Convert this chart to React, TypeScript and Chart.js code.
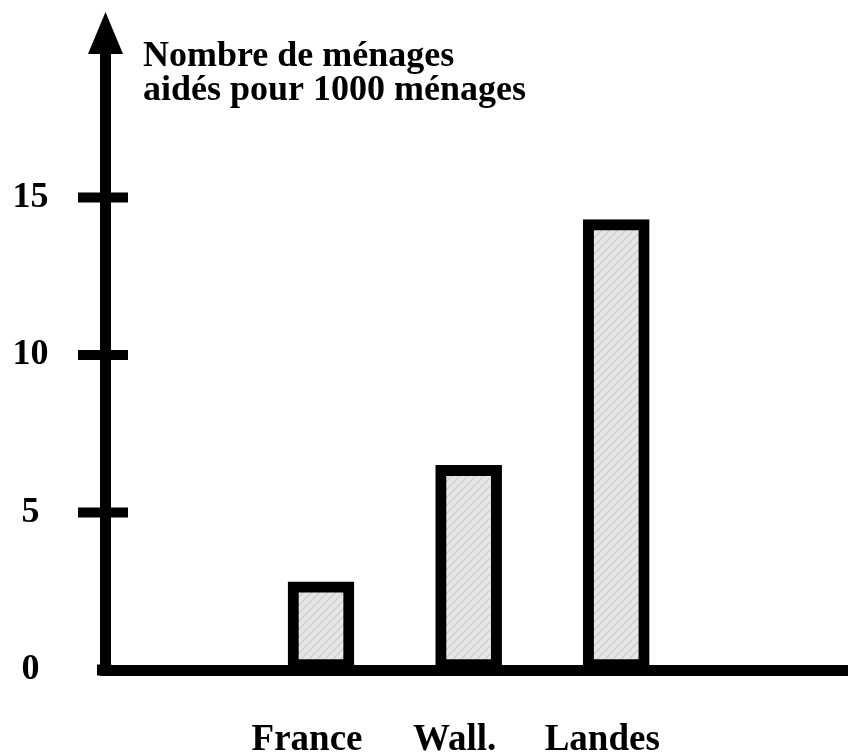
import React, { useEffect, useRef } from "react";
import { Chart, registerables } from "chart.js";

Chart.register(...registerables);

const categories = ["France", "Wall.", "Landes"];
const values = [2.8, 6.5, 14.3];
const yTickValues = [0, 5, 10, 15];
const titleLines = ["Nombre de ménages", "aidés pour 1000 ménages"];

const FONT = "'Liberation Serif', 'Times New Roman', serif";

function makePattern(): CanvasPattern | string {
  const c = document.createElement("canvas");
  c.width = 24;
  c.height = 24;
  const g = c.getContext("2d");
  if (!g) return "#e4e4e4";
  g.fillStyle = "#e6e6e6";
  g.fillRect(0, 0, 24, 24);
  g.strokeStyle = "rgba(185,185,185,0.5)";
  g.lineWidth = 1.3;
  for (let k = -24; k <= 48; k += 8) {
    g.beginPath();
    g.moveTo(k, 24);
    g.lineTo(k + 24, 0);
    g.stroke();
  }
  return g.createPattern(c, "repeat") || "#e4e4e4";
}

const decorPlugin = {
  id: "decor",
  afterDraw(chart: any) {
    const { ctx, chartArea, scales } = chart;
    const y = scales.y;
    const axisX = chartArea.left;
    const base = chartArea.bottom;
    ctx.save();
    ctx.fillStyle = "#000";
    // corner fill so the two axis lines meet
    ctx.fillRect(97, base - 5.5, axisX - 97 + 6, 11);
    ctx.fillRect(axisX - 5.5, base - 6, 11, 11);
    // arrow head
    ctx.beginPath();
    ctx.moveTo(axisX, chartArea.top - 28);
    ctx.lineTo(axisX - 17.5, chartArea.top + 14);
    ctx.lineTo(axisX + 17.5, chartArea.top + 14);
    ctx.closePath();
    ctx.fill();
    // tick stubs across the axis
    for (const v of yTickValues) {
      if (v === 0) continue;
      const py = y.getPixelForValue(v);
      ctx.fillRect(axisX - 27.5, py - 5, 50, 10);
    }
    // title
    ctx.font = `bold 36px ${FONT}`;
    ctx.textBaseline = "alphabetic";
    ctx.textAlign = "left";
    ctx.fillText(titleLines[0], 143, 66);
    ctx.fillText(titleLines[1], 143, 100);
    ctx.restore();
  },
};

export default function App() {
  const canvasRef = useRef<HTMLCanvasElement | null>(null);

  useEffect(() => {
    const canvas = canvasRef.current;
    if (!canvas) return;
    const pattern = makePattern();
    const chart = new Chart(canvas, {
      type: "bar",
      data: {
        datasets: [
          {
            data: categories.map((_, i) => ({ x: i, y: values[i] })),
            backgroundColor: pattern as any,
            borderColor: "#000",
            borderWidth: 11,
            borderSkipped: false,
            barThickness: 66,
          },
        ],
      },
      options: {
        responsive: false,
        animation: false,
        devicePixelRatio: 1,
        layout: { padding: { top: 40, left: 0, right: 0, bottom: 0 } },
        plugins: {
          legend: { display: false },
          tooltip: { enabled: false },
          title: { display: false },
        },
        scales: {
          x: {
            type: "linear",
            offset: false,
            min: -1.46,
            max: 3.57,
            grid: { display: false, drawTicks: false, offset: false },
            border: { display: true, color: "#000", width: 11 },
            afterBuildTicks: (s: any) => {
              s.ticks = categories.map((_, i) => ({ value: i }));
            },
            afterFit: (s: any) => {
              s.height = 86;
              s.paddingLeft = 0;
              s.paddingRight = 0;
            },
            ticks: {
              callback: (v: any) => categories[v as number] ?? "",
              font: { family: FONT, size: 37, weight: "bold" },
              color: "#000",
              padding: 48,
              labelOffset: -14,
              maxRotation: 0,
              autoSkip: false,
            },
          },
          y: {
            type: "linear",
            min: 0,
            max: 20,
            grid: { display: false, drawTicks: false },
            border: { display: true, color: "#000", width: 11 },
            afterBuildTicks: (s: any) => {
              s.ticks = yTickValues.map((v) => ({ value: v }));
            },
            afterFit: (s: any) => {
              s.width = 105.5;
              s.paddingTop = 0;
              s.paddingBottom = 0;
            },
            ticks: {
              callback: (v: any) => String(v),
              crossAlign: "center",
              padding: 57,
              font: { family: FONT, size: 36, weight: "bold" },
              color: "#000",
            },
          },
        },
      },
      plugins: [decorPlugin],
    });
    return () => chart.destroy();
  }, []);

  return (
    <div style={{ position: "absolute", left: 0, top: 0, width: 848, height: 756 }}>
      <canvas ref={canvasRef} width={848} height={756} style={{ display: "block" }} />
    </div>
  );
}
